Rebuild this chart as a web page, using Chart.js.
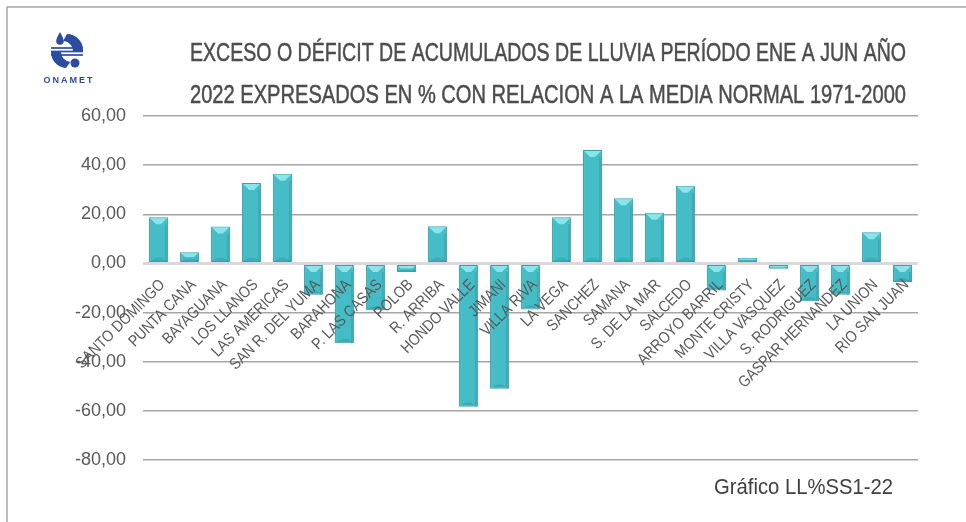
<!DOCTYPE html>
<html>
<head>
<meta charset="utf-8">
<script src="https://cdn.jsdelivr.net/npm/chart.js@4.4.0/dist/chart.umd.min.js"></script>
<style>
  html, body { margin: 0; padding: 0; background: #fff; }
  #wrap { width: 966px; height: 522px; }
</style>
</head>
<body>
<div id="wrap"><canvas id="rainChart" width="966" height="522"></canvas></div>
<script>
// estaciones y % de exceso/déficit de lluvia ene-jun 2022
const estaciones = [
  'SANTO DOMINGO', 'PUNTA CANA', 'BAYAGUANA', 'LOS LLANOS', 'LAS AMERICAS',
  'SAN R. DEL YUMA', 'BARAHONA', 'P. LAS CASAS', 'POLOB', 'R. ARRIBA',
  'HONDO VALLE', 'JIMANI', 'VILLA RIVA', 'LA VEGA', 'SANCHEZ', 'SAMANA',
  'S. DE LA MAR', 'SALCEDO', 'ARROYO BARRIL', 'MONTE CRISTY', 'VILLA VASQUEZ',
  'S. RODRIGUEZ', 'GASPAR HERNANDEZ', 'LA UNION', 'RIO SAN JUAN'
];
const anomalia = [
  18.8, 4.6, 15.0, 32.7, 36.5,
  -12.7, -32.5, -19.1, -3.5, 15.1,
  -58.3, -51.0, -18.7, 18.8, 46.2, 26.5,
  20.6, 31.6, -11.0, 2.3, -2.2,
  -15.4, -12.7, 12.7, -7.6
];
const yMin = -80;
const yMax = 60;
const yStep = 20;

const titleLines = [
  'EXCESO O DÉFICIT DE ACUMULADOS DE LLUVIA PERÍODO ENE A JUN AÑO',
  '2022 EXPRESADOS EN % CON RELACION A LA MEDIA NORMAL 1971-2000'
];
const footnote = 'Gráfico LL%SS1-22';

const sans = "'Liberation Sans', Arial, sans-serif";
const textGray = '#595959';

function fmt(v) {
  return v.toFixed(2).replace('.', ',');
}

// texto comprimido horizontalmente hasta un ancho dado
function fillNarrow(ctx, text, x, y, width) {
  const w = ctx.measureText(text).width;
  ctx.save();
  ctx.translate(x, y);
  ctx.scale(width / w, 1);
  ctx.fillText(text, 0, 0);
  ctx.restore();
}

// marco, logo, título y nota de pie
const decorPlugin = {
  id: 'decor',
  beforeDraw(chart) {
    const ctx = chart.ctx;
    ctx.save();
    ctx.fillStyle = '#fff';
    ctx.fillRect(0, 0, chart.width, chart.height);

    ctx.strokeStyle = '#a6a6a6';
    ctx.lineWidth = 1.5;
    ctx.beginPath();
    ctx.moveTo(7, chart.height);
    ctx.lineTo(7, 7);
    ctx.lineTo(chart.width, 7);
    ctx.stroke();

    drawLogo(ctx, 67, 50);

    ctx.fillStyle = '#4d4d4d';
    ctx.strokeStyle = '#4d4d4d';
    ctx.lineWidth = 0.5;
    ctx.textBaseline = 'alphabetic';
    ctx.textAlign = 'center';
    ctx.font = '26px ' + sans;
    const baselines = [61, 103];
    titleLines.forEach((line, i) => {
      const w = ctx.measureText(line).width;
      ctx.save();
      ctx.translate(548, baselines[i]);
      ctx.scale(716 / w, 1);
      ctx.fillText(line, 0, 0);
      ctx.strokeText(line, 0, 0);
      ctx.restore();
    });

    ctx.fillStyle = '#404040';
    ctx.font = '22px ' + sans;
    ctx.textAlign = 'left';
    fillNarrow(ctx, footnote, 714, 494, 179);
    ctx.restore();
  }
};

function drawLogo(ctx, cx, cy) {
  const blue = '#2c4ca0';
  ctx.save();
  ctx.fillStyle = blue;
  ctx.strokeStyle = blue;

  // gota
  ctx.beginPath();
  ctx.moveTo(cx - 7, cy - 18);
  ctx.quadraticCurveTo(cx - 3, cy - 11, cx - 3.5, cy - 9);
  ctx.arc(cx - 7, cy - 9, 3.8, 0, Math.PI);
  ctx.quadraticCurveTo(cx - 11, cy - 11, cx - 7, cy - 18);
  ctx.fill();

  // media luna superior
  ctx.beginPath();
  ctx.arc(cx, cy, 16, -Math.PI * 0.5, Math.PI * 0.02);
  ctx.arc(cx - 4, cy + 1, 10, Math.PI * 0.02, -Math.PI * 0.5, true);
  ctx.closePath();
  ctx.fill();

  // franjas
  ctx.lineWidth = 1.7;
  [-2, 1.5, 5].forEach(dy => {
    ctx.beginPath();
    ctx.moveTo(cx - 16, cy + dy);
    ctx.lineTo(cx + 16, cy + dy);
    ctx.stroke();
  });

  // media luna inferior
  ctx.beginPath();
  ctx.arc(cx, cy + 2, 16, Math.PI * 0.52, Math.PI * 1.0);
  ctx.arc(cx + 4, cy + 2, 10, Math.PI * 1.0, Math.PI * 0.52, true);
  ctx.closePath();
  ctx.fill();

  // punto
  ctx.beginPath();
  ctx.arc(cx + 8, cy + 13, 4.5, 0, Math.PI * 2);
  ctx.fill();

  ctx.font = 'bold 9px ' + sans;
  ctx.textAlign = 'center';
  ctx.textBaseline = 'middle';
  ctx.letterSpacing = '2px';
  ctx.fillText('ONAMET', cx + 2, cy + 31);
  ctx.restore();
}

// bisel claro en el extremo superior de cada barra
const bevelPlugin = {
  id: 'bevel',
  afterDatasetsDraw(chart) {
    const ctx = chart.ctx;
    const meta = chart.getDatasetMeta(0);
    ctx.save();
    meta.data.forEach(bar => {
      const { x, y, base, width } = bar.getProps(['x', 'y', 'base', 'width'], true);
      const left = x - width / 2;
      const right = x + width / 2;
      const top = Math.min(y, base);
      const bottom = Math.max(y, base);
      const h = bottom - top;
      const b = Math.min(7, h / 2);

      ctx.fillStyle = '#8be4ea';
      ctx.beginPath();
      ctx.moveTo(left + 1, top + 1);
      ctx.lineTo(right - 1, top + 1);
      ctx.lineTo(right - b, top + b);
      ctx.lineTo(left + b, top + b);
      ctx.closePath();
      ctx.fill();

      ctx.fillStyle = 'rgba(40,140,150,0.35)';
      ctx.beginPath();
      ctx.moveTo(left + 1, bottom - 1);
      ctx.lineTo(right - 1, bottom - 1);
      ctx.lineTo(right - b, bottom - b * 0.6);
      ctx.lineTo(left + b, bottom - b * 0.6);
      ctx.closePath();
      ctx.fill();

      ctx.fillStyle = 'rgba(30,120,130,0.25)';
      ctx.fillRect(right - 3, top + b, 2, h - b);
    });
    ctx.restore();
  }
};

// etiquetas de estación a 45°, sobre las barras, junto a la línea de cero
const stationLabelsPlugin = {
  id: 'stationLabels',
  afterDatasetsDraw(chart) {
    const ctx = chart.ctx;
    const xs = chart.scales.x;
    const y0 = chart.scales.y.getPixelForValue(0);
    ctx.save();
    ctx.fillStyle = textGray;
    ctx.font = '16px ' + sans;
    ctx.textAlign = 'right';
    ctx.textBaseline = 'middle';
    estaciones.forEach((name, i) => {
      const x = xs.getPixelForTick(i);
      ctx.save();
      ctx.translate(x + 4, y0 + 19);
      ctx.rotate(-Math.PI / 4);
      ctx.scale(0.86, 1);
      ctx.fillText(name, 0, 0);
      ctx.restore();
    });
    ctx.restore();
  }
};

const ctx = document.getElementById('rainChart').getContext('2d');

const rainChart = new Chart(ctx, {
  type: 'bar',
  data: {
    labels: estaciones,
    datasets: [{
      data: anomalia,
      backgroundColor: '#45bdc7',
      borderColor: '#35a3ad',
      borderWidth: 1,
      borderSkipped: false,
      categoryPercentage: 1,
      barPercentage: 0.61
    }]
  },
  options: {
    responsive: false,
    animation: false,
    layout: { padding: { top: 116, right: 48, bottom: 62, left: 0 } },
    plugins: {
      legend: { display: false },
      tooltip: { enabled: false }
    },
    scales: {
      x: {
        position: { y: 0 },
        grid: { display: false },
        border: { display: false },
        ticks: { display: false }
      },
      y: {
        min: yMin,
        max: yMax,
        afterFit(scale) { scale.width = 143; },
        border: { display: false },
        grid: {
          drawTicks: false,
          color: c => c.tick && c.tick.value === 0 ? '#d9d9d9' : '#a6a6a6',
          lineWidth: c => c.tick && c.tick.value === 0 ? 3 : 1.5
        },
        ticks: {
          stepSize: yStep,
          padding: 17,
          color: textGray,
          font: { family: sans, size: 18 },
          callback: v => fmt(v)
        }
      }
    }
  },
  plugins: [decorPlugin, bevelPlugin, stationLabelsPlugin]
});
</script>
</body>
</html>
